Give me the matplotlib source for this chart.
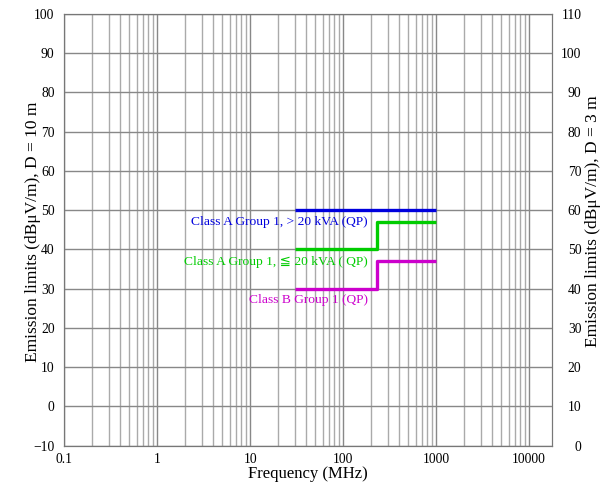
import numpy as np
import matplotlib.pyplot as plt
from matplotlib.ticker import FixedLocator, NullFormatter

plt.rcParams['font.family'] = ['Liberation Serif', 'DejaVu Serif', 'DejaVu Sans']

# limit lines (frequency in MHz, level in dBuV/m at 10 m)
freq_steps = [30, 230, 1000]
class_a_big = [50, 50]
class_a_small = [40, 47]
class_b = [30, 37]

labels = ["Class A Group 1, > 20 kVA (QP)",
          "Class A Group 1, \u2266 20 kVA ( QP)",
          "Class B Group 1 (QP)"]
colors = ['#0000dd', '#00cc00', '#cc00cc']

xticks = [0.1, 1, 10, 100, 1000, 10000]
xticklabels = ['0.1', '1', '10', '100', '1000', '10000']
left_ticks = list(range(-10, 101, 10))
right_ticks = list(range(0, 111, 10))

fig = plt.figure(figsize=(6.08, 4.83), dpi=100)
ax = fig.add_axes([0.1058, 0.0772, 0.8026, 0.8938])

ax.set_xscale('log')
ax.set_xlim(0.1, 17700)
ax.set_ylim(-10, 100)

# minor grid for every log step
minors = [m * 10.0 ** e for e in range(-1, 5) for m in range(2, 10)]
minors = [v for v in minors if v < 17700]
ax.xaxis.set_minor_locator(FixedLocator(minors))
ax.xaxis.set_minor_formatter(NullFormatter())
ax.set_xticks(xticks)
ax.set_xticklabels(xticklabels)
ax.set_yticks(left_ticks)
ax.set_yticklabels(['\u221210' if t < 0 else str(t) for t in left_ticks])

ax.grid(True, which='major', axis='both', color='#888888', lw=1.0)
ax.grid(True, which='minor', axis='x', color='#aaaaaa', lw=1.0)
ax.set_axisbelow(True)
ax.tick_params(which='both', length=0, labelsize=9.8)
ax.tick_params(axis='y', pad=7)
ax.tick_params(axis='x', pad=5)
for s in ax.spines.values():
    s.set_color('#777777')

for vals, c in zip([class_a_big, class_a_small, class_b], colors):
    ax.step(freq_steps, vals + [vals[-1]], where='post', color=c, lw=2.4,
            solid_capstyle='butt', zorder=3)

ax.text(184, 47.0, labels[0], color=colors[0], fontsize=9.7, ha='right', va='center')
ax.text(184, 36.9, labels[1], color=colors[1], fontsize=9.7, ha='right', va='center')
ax.text(184, 27.1, labels[2], color=colors[2], fontsize=9.7, ha='right', va='center')

ax.set_xlabel('Frequency (MHz)', fontsize=12, labelpad=0)
ax.set_ylabel('Emission limits (dB\u03bcV/m), D = 10 m', fontsize=12.5)
ax.yaxis.set_label_coords(-0.048, 0.495)

ax2 = ax.twinx()
ax2.set_ylim(0, 110)
ax2.set_yticks(right_ticks)
ax2.tick_params(length=0, labelsize=9.8, pad=21)
for t in ax2.get_yticklabels():
    t.set_ha('right')
for s in ax2.spines.values():
    s.set_color('#777777')
ax2.set_ylabel('Emission limits (dB\u03bcV/m), D = 3 m', fontsize=12.5)
ax2.yaxis.set_label_coords(1.066, 0.519)

fig.savefig('out.png', dpi=100)
